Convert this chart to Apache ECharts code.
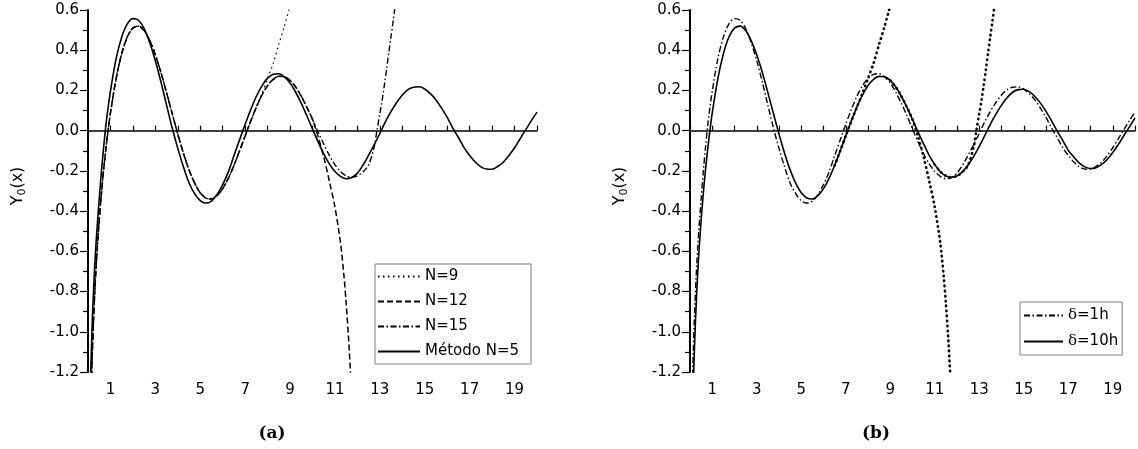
<!DOCTYPE html>
<html><head><meta charset="utf-8">
<script src="https://cdn.jsdelivr.net/npm/echarts@6/dist/echarts.min.js"></script>
<style>html,body{margin:0;padding:0;background:#fff}#c{width:1138px;height:449px}</style>
</head><body><div id="c"></div>
<script>
// x sample positions
const xVals = [0.1, 0.15, 0.2, 0.3, 0.4, 0.5, 0.6, 0.7, 0.8, 0.9, 1.0,
  1.25, 1.5, 1.75, 2.0, 2.25, 2.5, 2.75, 3.0, 3.25, 3.5, 3.75,
  4.0, 4.25, 4.5, 4.75, 5.0, 5.25, 5.5, 5.75, 6.0, 6.25, 6.5, 6.75, 7.0, 7.25, 7.5, 7.75,
  8.0, 8.25, 8.5, 8.75, 9.0, 9.25, 9.5, 9.75, 10.0, 10.25, 10.5, 10.75, 11.0, 11.25, 11.5, 11.75,
  12.0, 12.25, 12.5, 12.75, 13.0, 13.25, 13.5, 13.75, 14.0, 14.25, 14.5, 14.75, 15.0, 15.25, 15.5, 15.75,
  16.0, 16.25, 16.5, 16.75, 17.0, 17.25, 17.5, 17.75, 18.0, 18.25, 18.5, 18.75, 19.0, 19.25, 19.5, 19.75, 20.0];
// reference-like curve (N=9 / N=12 / N=15 before they diverge, and δ=10h)
const yExact = [-1.534, -1.281, -1.081, -0.807, -0.606, -0.445, -0.309, -0.191, -0.087, 0.006, 0.088,
  0.258, 0.382, 0.466, 0.510, 0.520, 0.498, 0.448, 0.377, 0.289, 0.189, 0.085,
  -0.017, -0.112, -0.195, -0.261, -0.309, -0.335, -0.340, -0.323, -0.288, -0.237, -0.173, -0.101, -0.026, 0.048, 0.117, 0.177,
  0.224, 0.255, 0.270, 0.268, 0.250, 0.217, 0.171, 0.116, 0.056, -0.007, -0.066, -0.123, -0.169, -0.204, -0.225, -0.232,
  -0.225, -0.204, -0.171, -0.128, -0.078, -0.024, 0.033, 0.082, 0.127, 0.164, 0.191, 0.204, 0.206, 0.194, 0.170, 0.137,
  0.096, 0.049, -0.002, -0.048, -0.098, -0.131, -0.161, -0.180, -0.188, -0.184, -0.168, -0.143, -0.109, -0.069, -0.024, 0.019, 0.063];
// method curve (Método N=5 and δ=1h)
const yMethod = [-1.28, -1.09, -0.92, -0.67, -0.49, -0.34, -0.20, -0.08, 0.03, 0.119, 0.197,
  0.357, 0.465, 0.531, 0.557, 0.549, 0.508, 0.437, 0.348, 0.242, 0.127, 0.013,
  -0.088, -0.180, -0.260, -0.313, -0.348, -0.360, -0.350, -0.317, -0.268, -0.205, -0.125, -0.046, 0.032, 0.105, 0.171, 0.223,
  0.261, 0.280, 0.283, 0.267, 0.237, 0.191, 0.136, 0.074, 0.008, -0.056, -0.115, -0.165, -0.203, -0.227, -0.239, -0.233,
  -0.211, -0.171, -0.122, -0.069, -0.014, 0.045, 0.096, 0.140, 0.177, 0.204, 0.216, 0.218, 0.207, 0.184, 0.153, 0.112,
  0.066, 0.013, -0.034, -0.084, -0.123, -0.156, -0.180, -0.191, -0.192, -0.178, -0.157, -0.124, -0.085, -0.040, 0.005, 0.050, 0.092];
// diverging tails of the truncated series
const xTailN9 = [7.75, 8.0, 8.25, 8.5, 8.75, 8.97];
const yTailN9 = [0.185, 0.26, 0.335, 0.43, 0.52, 0.61];
const xTailN12 = [10.25, 10.5, 10.75, 11.0, 11.25, 11.4, 11.5, 11.6, 11.7];
const yTailN12 = [-0.03, -0.13, -0.25, -0.38, -0.56, -0.72, -0.86, -1.02, -1.22];
const xTailN15 = [12.25, 12.5, 12.75, 12.87, 13.0, 13.1, 13.2, 13.3, 13.4, 13.5, 13.6, 13.67];
const yTailN15 = [-0.205, -0.17, -0.08, 0.0, 0.085, 0.15, 0.225, 0.305, 0.39, 0.47, 0.55, 0.61];
// tick labels
const xLabelValues = [1, 3, 5, 7, 9, 11, 13, 15, 17, 19];
const legendA = ['N=9', 'N=12', 'N=15', 'Método N=5'];
const legendB = ['δ=1h', 'δ=10h'];

function pairs(xs, ys) { return xs.map((x, i) => [x, ys[i]]); }
const exactPts = pairs(xVals, yExact);
const methodPts = pairs(xVals, yMethod);
function exactRange(a, b) { return exactPts.filter(p => p[0] >= a && p[0] <= b); }
const n9 = (a) => exactRange(a, 7.5).concat(pairs(xTailN9, yTailN9));
const n12 = (a) => exactRange(a, 10.0).concat(pairs(xTailN12, yTailN12));
const n15 = (a) => exactRange(a, 12.0).concat(pairs(xTailN15, yTailN15));

const FONT = 'DejaVu Sans';
function xAxisCfg(gi) {
  return {
    type: 'value', gridIndex: gi, min: 0, max: 20, interval: 1,
    axisLine: { onZero: true, lineStyle: { color: '#000', width: 1.5 } },
    axisTick: { inside: true, length: 5, lineStyle: { color: '#000', width: 1.2 } },
    axisLabel: { margin: 11, color: '#000', fontFamily: FONT, fontSize: 15,
      formatter: v => xLabelValues.includes(Math.round(v)) && Math.abs(v - Math.round(v)) < 1e-6 ? String(Math.round(v)) : '' },
    splitLine: { show: false }
  };
}
function yAxisCfg(gi) {
  return {
    type: 'value', gridIndex: gi, min: -1.2, max: 0.6, interval: 0.2,
    axisLine: { show: true, onZero: false, lineStyle: { color: '#000', width: 2 } },
    axisTick: { show: true, length: 8, lineStyle: { color: '#000', width: 1.2 } },
    minorTick: { show: true, splitNumber: 2, length: 5, lineStyle: { color: '#000', width: 1.2 } },
    axisLabel: { margin: 9, color: '#000', fontFamily: FONT, fontSize: 15,
      formatter: v => (Math.abs(v) < 1e-9 ? 0 : v).toFixed(1) },
    splitLine: { show: false }
  };
}
function line(name, gi, data, lineStyle, z) {
  return { name, type: 'line', xAxisIndex: gi, yAxisIndex: gi, data, symbol: 'none', showSymbol: false,
    smooth: 0.3, clip: true, z: z || 2, lineStyle: Object.assign({ color: '#000', cap: 'butt' }, lineStyle),
    itemStyle: { color: '#000' }, emphasis: { disabled: true } };
}
const DOT = { width: 1.2, type: [1.5, 3.5] };
const DASH = { width: 1.5, type: [6, 3] };
const DASHDOT = { width: 1.4, type: [6, 2.5, 1.5, 2.5] };
const SOLID = { width: 1.6, type: 'solid' };
const BIGDOT = { width: 2.6, type: [0.5, 4.5], cap: 'round' };

function yLabel(x) {
  return { type: 'text', x: x, y: 186, rotation: Math.PI / 2,
    style: { text: '{m|Y}{s|0}{m|(x)}', align: 'center', verticalAlign: 'middle', fill: '#000',
      rich: { m: { fontFamily: FONT, fontSize: 16, lineHeight: 20, verticalAlign: 'middle', fill: '#000' },
              s: { fontFamily: FONT, fontSize: 11, lineHeight: 20, verticalAlign: 'bottom', fill: '#000' } } } };
}
const legendCommon = { orient: 'vertical', itemHeight: 14, borderColor: '#7f7f7f', borderWidth: 1,
  backgroundColor: '#fff', selectedMode: false, itemStyle: { opacity: 0, borderWidth: 0 } };

const chart = echarts.init(document.getElementById('c'), null, { renderer: 'canvas' });
chart.setOption({
  animation: false,
  backgroundColor: '#fff',
  grid: [
    { left: 88, top: 10, width: 449, height: 362 },
    { left: 690, top: 10, width: 449, height: 362 }
  ],
  xAxis: [xAxisCfg(0), xAxisCfg(1)],
  yAxis: [yAxisCfg(0), yAxisCfg(1)],
  legend: [
    Object.assign({}, legendCommon, { data: legendA, left: 375, top: 264, itemWidth: 42, itemGap: 10,
      padding: [5, 12, 5, 2], textStyle: { fontFamily: FONT, fontSize: 15, color: '#000' } }),
    Object.assign({}, legendCommon, { data: legendB, left: 1020, top: 302, itemWidth: 39, itemGap: 11,
      padding: [6, 4, 6, 3], formatter: n => n.replace('δ', '{d|δ}'),
      textStyle: { fontFamily: FONT, fontSize: 15, color: '#000',
        rich: { d: { fontFamily: 'DejaVu Serif', fontSize: 15, color: '#000' } } } })
  ],
  graphic: [
    yLabel(18), yLabel(620),
    { type: 'text', x: 272, y: 434, style: { text: '(a)', align: 'center', verticalAlign: 'middle', fill: '#000',
      fontFamily: 'DejaVu Serif', fontWeight: 'bold', fontSize: 17 } },
    { type: 'text', x: 876, y: 434, style: { text: '(b)', align: 'center', verticalAlign: 'middle', fill: '#000',
      fontFamily: 'DejaVu Serif', fontWeight: 'bold', fontSize: 17 } }
  ],
  series: [
    line('N=9', 0, n9(0), DOT, 2),
    line('N=12', 0, n12(0), DASH, 2),
    line('N=15', 0, n15(0), DASHDOT, 2),
    line('Método N=5', 0, methodPts, SOLID, 3),
    line('δ=1h', 1, methodPts, DASHDOT, 2),
    line('δ=10h', 1, exactPts, SOLID, 3),
    line('trunc9', 1, n9(6.5), BIGDOT, 4),
    line('trunc12', 1, n12(9.0), BIGDOT, 4),
    line('trunc15', 1, n15(11.0), BIGDOT, 4)
  ]
});
</script>
</body></html>
